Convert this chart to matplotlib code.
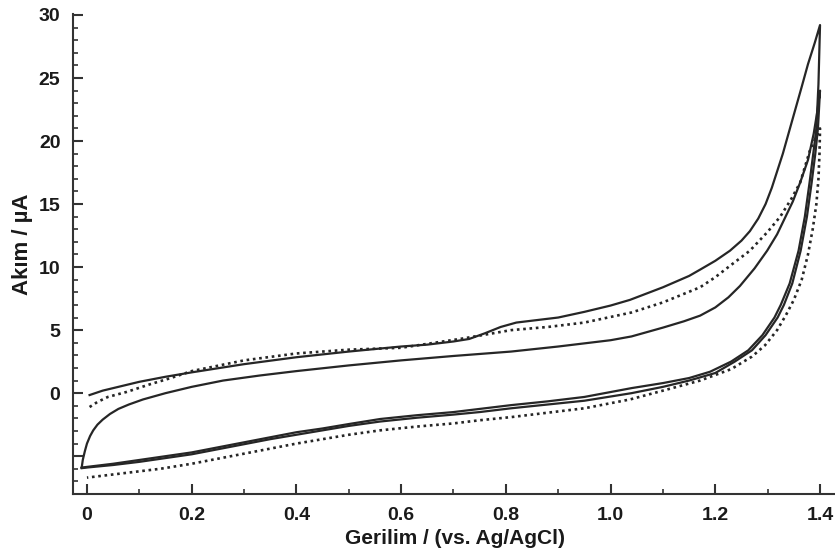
import numpy as np
import matplotlib.pyplot as plt
from matplotlib.ticker import MultipleLocator, FuncFormatter

# Curve A (solid, outer loop) - anodic and cathodic branches
a_fwd_x = [0.005, 0.03, 0.06, 0.1, 0.15, 0.2, 0.3, 0.4, 0.5, 0.6, 0.65, 0.7, 0.73, 0.76,
           0.79, 0.82, 0.86, 0.9, 0.95, 1.0, 1.037, 1.1, 1.15, 1.171, 1.2, 1.228, 1.25,
           1.266, 1.282, 1.296, 1.308, 1.329, 1.348, 1.365, 1.377, 1.39, 1.40]
a_fwd_y = [-0.15, 0.2, 0.5, 0.9, 1.3, 1.65, 2.3, 2.85, 3.3, 3.7, 3.85, 4.1, 4.3, 4.75,
           5.25, 5.6, 5.8, 6.0, 6.45, 6.95, 7.4, 8.4, 9.3, 9.8, 10.5, 11.3, 12.1,
           12.85, 13.85, 15.0, 16.3, 19.0, 21.8, 24.3, 26.1, 27.8, 29.2]
a_rev_x = [1.40, 1.397, 1.393, 1.388, 1.38, 1.371, 1.359, 1.342, 1.325, 1.313, 1.29,
           1.263, 1.23, 1.19, 1.15, 1.1, 1.04, 0.95, 0.88, 0.81, 0.75, 0.7, 0.63, 0.56,
           0.5, 0.45, 0.4, 0.35, 0.3, 0.25, 0.2, 0.15, 0.1, 0.05, 0.0, -0.01]
a_rev_y = [29.2, 24.5, 21.0, 19.3, 16.7, 14.0, 11.3, 8.7, 7.0, 6.0, 4.6,
           3.4, 2.5, 1.7, 1.2, 0.8, 0.4, -0.3, -0.65, -0.95, -1.25, -1.5, -1.75, -2.05,
           -2.45, -2.8, -3.1, -3.5, -3.9, -4.3, -4.7, -5.0, -5.3, -5.6, -5.85, -5.9]

# Curve C (solid, inner loop)
c_fwd_x = [-0.01, -0.008, -0.004, 0.0, 0.006, 0.012, 0.02, 0.03, 0.044, 0.06, 0.08, 0.107,
           0.15, 0.2, 0.26, 0.33, 0.4, 0.5, 0.6, 0.7, 0.81, 0.9, 1.0, 1.04, 1.1, 1.14,
           1.171, 1.2, 1.225, 1.247, 1.275, 1.299, 1.318, 1.333, 1.348, 1.362, 1.377,
           1.388, 1.395, 1.40]
c_fwd_y = [-5.9, -5.3, -4.6, -4.0, -3.4, -2.95, -2.5, -2.1, -1.65, -1.25, -0.9, -0.5,
           0.0, 0.5, 1.0, 1.4, 1.75, 2.2, 2.6, 2.95, 3.3, 3.7, 4.2, 4.5, 5.2, 5.7,
           6.15, 6.8, 7.6, 8.5, 9.9, 11.3, 12.6, 13.9, 15.2, 16.7, 18.5,
           20.6, 22.4, 24.0]
c_rev_x = [1.40, 1.396, 1.391, 1.384, 1.375, 1.363, 1.347, 1.331, 1.319, 1.296, 1.27,
           1.237, 1.2, 1.15, 1.1, 1.04, 0.95, 0.88, 0.81, 0.75, 0.7, 0.63, 0.56, 0.5,
           0.45, 0.4, 0.35, 0.3, 0.25, 0.2, 0.15, 0.1, 0.05, 0.0, -0.01]
c_rev_y = [24.0, 21.0, 19.0, 16.7, 14.0, 11.3, 8.7, 7.0, 6.0, 4.6, 3.4,
           2.5, 1.6, 1.0, 0.5, 0.0, -0.6, -0.9, -1.2, -1.5, -1.7, -1.95, -2.25, -2.6,
           -2.95, -3.3, -3.65, -4.05, -4.45, -4.85, -5.15, -5.45, -5.7, -5.9, -5.95]

# Curve B (dotted)
b_fwd_x = [0.005, 0.02, 0.04, 0.076, 0.12, 0.16, 0.2, 0.3, 0.4, 0.5, 0.6, 0.72, 0.81,
           0.88, 0.95, 1.04, 1.1, 1.171, 1.2, 1.228, 1.266, 1.3, 1.324, 1.345, 1.362,
           1.381, 1.392, 1.40]
b_fwd_y = [-1.1, -0.7, -0.3, 0.1, 0.7, 1.2, 1.75, 2.6, 3.15, 3.45, 3.6, 4.35, 5.0,
           5.25, 5.6, 6.4, 7.2, 8.4, 9.2, 10.1, 11.3, 12.8, 14.0, 15.4, 16.7,
           19.3, 20.3, 21.0]
b_rev_x = [1.40, 1.399, 1.397, 1.393, 1.386, 1.377, 1.365, 1.35, 1.335, 1.318, 1.295,
           1.27, 1.23, 1.171, 1.1, 1.037, 0.95, 0.88, 0.81, 0.75, 0.7, 0.63, 0.56, 0.5,
           0.45, 0.4, 0.35, 0.3, 0.25, 0.2, 0.14, 0.07, 0.02, 0.0]
b_rev_y = [21.0, 19.0, 17.0, 15.0, 13.0, 11.0, 9.0, 7.4, 6.2, 5.0, 3.8,
           2.9, 1.9, 1.0, 0.2, -0.5, -1.2, -1.55, -1.9, -2.15, -2.4, -2.65, -2.95, -3.3,
           -3.65, -4.0, -4.4, -4.8, -5.2, -5.6, -6.0, -6.35, -6.6, -6.7]

plt.rcParams['font.family'] = ['Liberation Sans', 'DejaVu Sans']

fig = plt.figure(figsize=(8.35, 5.57), dpi=100)
ax = fig.add_axes([0.0874, 0.1131, 0.9126, 0.8618])

line_col = '#262626'
ax.plot(a_fwd_x + a_rev_x, a_fwd_y + a_rev_y, color=line_col, lw=1.6)
ax.plot(c_fwd_x + c_rev_x, c_fwd_y + c_rev_y, color=line_col, lw=1.6)
ax.plot(b_fwd_x + b_rev_x, b_fwd_y + b_rev_y, color=line_col, lw=1.9,
        linestyle=(0, (1, 1.4)))

ax.set_xlim(-0.0267, 1.4286)
ax.set_ylim(-8.0, 30.08)

ax.spines['top'].set_visible(False)
ax.spines['right'].set_visible(False)
ax.spines['left'].set_linewidth(1.5)
ax.spines['bottom'].set_linewidth(1.5)
ax.spines['left'].set_color('#333333')
ax.spines['bottom'].set_color('#333333')

ax.xaxis.set_major_locator(MultipleLocator(0.2))
ax.xaxis.set_minor_locator(MultipleLocator(0.1))
ax.yaxis.set_major_locator(MultipleLocator(5))
ax.yaxis.set_minor_locator(MultipleLocator(1))

x_labels = {0: '0', 1: '0.2', 2: '0.4', 3: '0.6', 4: '0.8', 5: '1.0', 6: '1.2', 7: '1.4'}
ax.xaxis.set_major_formatter(FuncFormatter(lambda v, p: x_labels.get(int(round(v / 0.2)), '')))
ax.yaxis.set_major_formatter(FuncFormatter(lambda v, p: '%d' % v if v >= 0 else ''))

ax.tick_params(which='major', direction='in', length=7, width=1.5, color='#333333',
               labelsize=14, pad=9)
ax.tick_params(which='minor', direction='in', length=3.5, width=1.2, color='#333333')
for lab in ax.get_xticklabels() + ax.get_yticklabels():
    lab.set_fontweight('bold')
    lab.set_color('#1a1a1a')

ax.set_xlabel('Gerilim / (vs. Ag/AgCl)', fontsize=15, fontweight='bold', color='#1a1a1a')
ax.set_ylabel('Akım / µA', fontsize=16, fontweight='bold', color='#1a1a1a')
ax.xaxis.set_label_coords(0.501, -0.072)
ax.yaxis.set_label_coords(-0.052, 0.52)

fig.savefig('out.png', dpi=100)
